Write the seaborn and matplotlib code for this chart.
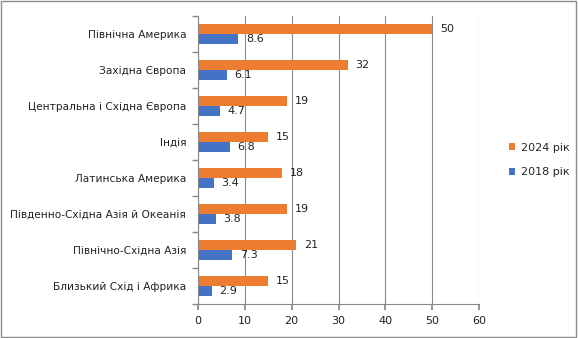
import matplotlib
matplotlib.use("Agg")
import matplotlib.pyplot as plt
import seaborn as sns
import pandas as pd
from matplotlib.patches import Rectangle

regions = ["Північна Америка", "Західна Європа", "Центральна і Східна Європа", "Індія",
           "Латинська Америка", "Південно-Східна Азія й Океанія", "Північно-Східна Азія",
           "Близький Схід і Африка"]
v2024 = [50, 32, 19, 15, 18, 19, 21, 15]
v2018 = [8.6, 6.1, 4.7, 6.8, 3.4, 3.8, 7.3, 2.9]
series = ["2024 рік", "2018 рік"]
xticks = [0, 10, 20, 30, 40, 50, 60]

df = pd.DataFrame({
    "region": regions * 2,
    "value": v2024 + v2018,
    "year": [series[0]] * len(regions) + [series[1]] * len(regions),
})

sns.set_theme(style="white")
plt.rcParams['font.family'] = ['DejaVu Sans']

fig = plt.figure(figsize=(5.78, 3.38), dpi=100)
ax = fig.add_axes([198/578, 34/338, (479-198)/578, (304-16)/338])

sns.barplot(data=df, y="region", x="value", hue="year", hue_order=series,
            palette=["#ED7D31", "#4472C4"], orient="h", width=0.58,
            ax=ax, saturation=1, legend=True, linewidth=0)

for cont in ax.containers:
    ax.bar_label(cont, labels=[f"{v:g}" for v in cont.datavalues], padding=5.5,
                 fontsize=8, color="#222222")

ax.set_xlim(0, 60)
ax.set_xticks(xticks)
ax.set_xlabel("")
ax.set_ylabel("")
ax.tick_params(axis="both", labelsize=7.6, colors="#222222")
ax.tick_params(axis="x", length=4, color="#888888", direction="out", bottom=True, pad=5,
               labelsize=8)
ax.tick_params(axis="y", which="major", length=0, pad=8.5)
ax.xaxis.grid(True, color="#8c8c8c", linewidth=0.8)
ax.set_axisbelow(True)
for s in ["top", "right"]:
    ax.spines[s].set_visible(False)
for s in ["left", "bottom"]:
    ax.spines[s].set_color("#888888")
    ax.spines[s].set_linewidth(0.8)

# y tick marks at category boundaries
ax.set_yticks([i - 0.5 for i in range(len(regions) + 1)], minor=True)
ax.tick_params(axis="y", which="minor", length=4, color="#888888", left=True)
ax.set_ylim(len(regions) - 0.5, -0.5)

leg = ax.legend(loc="center left", bbox_to_anchor=(1.07, 0.5), frameon=False,
                fontsize=8, handlelength=0.6, handleheight=0.6, labelspacing=1.3,
                handletextpad=0.5)

fig.patches.append(Rectangle((0.002, 0.003), 0.995, 0.993, transform=fig.transFigure,
                             fill=False, edgecolor="#8c8c8c", linewidth=1))

fig.savefig("out.png", dpi=100)
